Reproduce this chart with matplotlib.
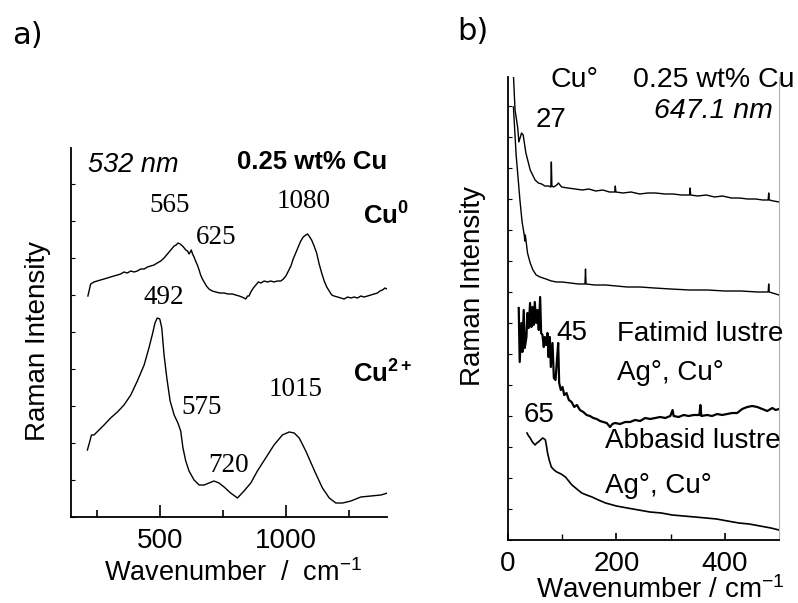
import matplotlib
matplotlib.use("Agg")
import matplotlib.pyplot as plt
from matplotlib.ticker import MultipleLocator, FixedLocator

plt.rcParams['font.family'] = ['Liberation Sans', 'DejaVu Sans']
plt.rcParams['mathtext.fontset'] = 'custom'
plt.rcParams['mathtext.rm'] = 'Liberation Sans'
plt.rcParams['mathtext.it'] = 'Liberation Sans:italic'
plt.rcParams['mathtext.bf'] = 'Liberation Sans:bold'

# ---------------- Panel a data (532 nm): (wavenumber, intensity) ----------------
cu0_pts = [(214, 221), (225, 233), (238, 235), (251, 236), (264, 237), (278, 238), (291, 239),
           (304, 240), (317, 241), (331, 242), (344, 243), (357, 245), (370, 244), (384, 246),
           (397, 245), (410, 246), (423, 248), (437, 248), (450, 250), (463, 251), (476, 252),
           (489, 254), (503, 256), (516, 259), (526, 262), (536, 265), (546, 268), (556, 271),
           (564, 272), (571, 274), (580, 273), (589, 271), (596, 269), (602, 267), (609, 266),
           (615, 263), (620, 265), (624, 267), (629, 263), (635, 260), (641, 256), (648, 252),
           (655, 247), (661, 242), (668, 238), (675, 235), (684, 231), (694, 228), (707, 226),
           (721, 225), (737, 224), (754, 224), (770, 223), (787, 223), (800, 222), (814, 221),
           (824, 220), (833, 219), (840, 218), (847, 221), (853, 221), (860, 225), (870, 229),
           (880, 232), (890, 235), (900, 234), (913, 236), (926, 235), (939, 236), (952, 235),
           (965, 236), (979, 236), (989, 238), (999, 241), (1009, 246), (1019, 251), (1028, 258),
           (1038, 264), (1048, 270), (1058, 276), (1068, 280), (1078, 282), (1085, 283),
           (1091, 281), (1101, 277), (1111, 271), (1121, 264), (1131, 253), (1141, 244),
           (1151, 236), (1161, 230), (1171, 226), (1181, 222), (1190, 221), (1204, 220),
           (1217, 219), (1230, 218), (1244, 220), (1257, 219), (1270, 220), (1283, 219),
           (1296, 221), (1309, 220), (1323, 221), (1336, 222), (1349, 223), (1362, 224),
           (1372, 226), (1382, 227), (1392, 229), (1400, 228)]

cu2_pts = [(212, 67), (222, 76), (228, 82), (238, 82), (258, 87), (278, 92), (304, 99), (331, 105),
           (357, 112), (384, 122), (410, 136), (437, 152), (456, 169), (470, 183), (480, 194),
           (489, 199), (499, 198), (507, 189), (516, 162), (527, 139), (540, 116), (556, 102),
           (571, 94), (582, 86), (591, 69), (602, 56), (615, 46), (635, 37), (655, 32), (675, 32),
           (694, 34), (714, 36), (734, 34), (754, 30), (780, 24), (807, 19), (833, 26), (860, 34),
           (886, 46), (919, 59), (952, 72), (985, 82), (1012, 85), (1032, 84), (1052, 79),
           (1078, 66), (1111, 47), (1144, 29), (1171, 19), (1197, 14), (1224, 14), (1257, 16),
           (1296, 20), (1336, 21), (1376, 22), (1402, 24)]

a_peaks = [("565", 540, 312), ("625", 722, 280), ("1080", 1071, 316),
           ("492", 514, 220), ("575", 663, 110), ("720", 770, 51), ("1015", 1036, 128)]

# ---------------- Panel b data (647.1 nm): (wavenumber, intensity) ----------------
b1_pts = [(10, 465), (13, 430), (18, 412), (20, 398), (25, 407), (28, 405), (33, 387), (41, 370),
          (50, 360), (56, 357), (62, 356), (68, 354), (75, 354), (79, 353), (80, 378), (81, 354),
          (84, 353), (90, 355), (93, 357), (99, 353), (110, 352), (124, 351), (137, 350),
          (149, 351), (162, 349), (175, 350), (187, 348), (197, 348), (198, 354), (199, 348),
          (212, 347), (227, 348), (243, 346), (258, 347), (272, 347), (290, 346), (305, 346),
          (320, 345), (335, 345), (336, 352), (337, 345), (350, 344), (366, 345), (381, 343),
          (396, 344), (412, 342), (427, 342), (442, 341), (457, 341), (470, 340), (480, 340),
          (481, 347), (482, 340), (490, 339), (500, 338)]

b2_pts = [(10, 433), (15, 385), (22, 340), (26, 318), (30, 305), (31, 299), (32, 305), (36, 287),
          (41, 277), (46, 270), (52, 265), (59, 263), (70, 261), (80, 259), (90, 258), (100, 258),
          (115, 257), (130, 256), (142, 256), (143, 271), (144, 256), (160, 255), (180, 255),
          (200, 254), (220, 253), (244, 253), (270, 252), (300, 251), (335, 250), (368, 250),
          (400, 249), (430, 249), (460, 248), (480, 248), (481, 256), (482, 248), (500, 245)]

b3_pts = [(19.8, 232), (21.6, 178), (24.7, 217), (26.5, 188), (29, 230), (30.9, 192), (34, 203),
          (35.8, 227), (38.3, 212), (40.7, 237), (43.2, 213), (45.1, 233), (47.5, 215),
          (49.4, 238), (51.9, 217), (54.3, 230), (56.8, 210), (59.3, 243), (61.1, 207),
          (63.6, 205), (66, 193), (67.9, 203), (70.4, 195), (72.8, 207), (74.7, 183), (77.2, 203),
          (79, 173), (82.1, 197), (84.6, 162), (87.7, 160), (90.7, 183), (92.6, 197), (94.4, 157),
          (97.5, 150), (100.6, 153), (103.7, 145), (108, 147), (112.3, 140), (117.3, 138),
          (122.2, 133), (127.2, 135), (132.7, 130), (138.9, 128), (145.1, 125), (151.2, 124),
          (157.4, 122), (163.6, 121), (169.8, 119), (175.9, 118), (182.1, 117), (188.3, 113),
          (192.6, 116), (197.5, 117), (206.8, 116), (216, 118), (225.3, 118), (234.6, 120),
          (243.8, 119), (253.1, 122), (262.3, 121), (271.6, 122), (280.9, 123), (290.1, 122),
          (299.4, 124), (303.7, 130), (305.6, 124), (314.8, 123), (324.1, 125), (333.3, 124),
          (342.6, 125), (353.1, 125), (354.9, 135), (356.8, 124), (367.3, 125), (376.5, 124),
          (385.8, 126), (395.1, 125), (404.3, 126), (413.6, 127), (422.8, 127), (432.1, 131),
          (441.4, 133), (450.6, 134), (459.9, 133), (469.1, 131), (478.4, 129), (487.7, 132),
          (493.8, 130), (500, 131)]

b4_pts = [(35, 107), (38, 104), (41, 102), (45, 98), (50, 95), (53, 97), (56, 98), (60, 100),
          (64, 102), (67, 101), (69, 100), (71, 94), (73, 87), (76, 80), (80, 73), (85, 70),
          (90, 68), (98, 66), (106, 63), (112, 59), (118, 55), (127, 51), (136, 47), (145, 45),
          (155, 43), (167, 40), (180, 37), (200, 34), (220, 32), (241, 30), (262, 28), (283, 27),
          (303, 25), (324, 24), (345, 23), (365, 22), (385, 21), (405, 19), (426, 17), (445, 16),
          (465, 14), (485, 12), (500, 10)]

W, H = 798, 603
fig = plt.figure(figsize=(W / 100, H / 100), dpi=100)


def fx(px):
    return px / W


def fy(py):
    return 1 - py / H


def ftext(px, py, s, **kw):
    kw.setdefault('va', 'center')
    fig.text(fx(px), fy(py), s, **kw)


def xy(pts):
    return [p[0] for p in pts], [p[1] for p in pts]


# axes a
axa = fig.add_axes([fx(71), fy(517), (387 - 71) / W, (517 - 148) / H])
axa.plot(*xy(cu0_pts), color='black', lw=1.0)
axa.plot(*xy(cu2_pts), color='black', lw=1.0)
axa.set_xlim(147, 1400)
axa.set_ylim(0, 369)
for s in ['top', 'right']:
    axa.spines[s].set_visible(False)
axa.spines['left'].set_linewidth(1.3)
axa.spines['bottom'].set_linewidth(1.3)
axa.xaxis.set_major_locator(FixedLocator([500, 1000]))
axa.xaxis.set_minor_locator(FixedLocator([250, 750, 1250]))
axa.yaxis.set_major_locator(MultipleLocator(37))
axa.tick_params(axis='x', which='major', direction='in', length=9, width=1.2, labelsize=20, pad=8)
axa.tick_params(axis='x', which='minor', direction='in', length=5, width=1.2)
axa.tick_params(axis='y', which='major', direction='in', length=3, width=0.8, labelleft=False)
for lab, x, y in a_peaks:
    axa.text(x, y, lab, family='Liberation Serif', fontsize=19.5, ha='center', va='center')

ftext(88, 165, '532 nm', fontsize=19.5, style='italic')
ftext(237, 162, '0.25 wt% Cu', fontsize=18.5, weight='bold')
ftext(363, 216, r'$\mathbf{Cu^0}$', fontsize=18.5)
ftext(353, 374, r'$\mathbf{Cu^{2+}}$', fontsize=18.5)
ftext(12, 36, 'a)', fontsize=22, family=['DejaVu Sans'])
ftext(38, 341, 'Raman Intensity', fontsize=20, rotation=90, ha='center')
ftext(233, 573, r'Wavenumber  /  cm$^{-1}$', fontsize=19.5, ha='center')

# axes b
axb = fig.add_axes([fx(508), fy(540), (779 - 508) / W, (540 - 77) / H])
axb.plot(*xy(b1_pts), color='black', lw=1.0)
axb.plot(*xy(b2_pts), color='black', lw=1.0)
axb.plot(*xy(b3_pts), color='black', lw=1.6)
axb.plot(*xy(b4_pts), color='black', lw=1.2)
axb.set_xlim(0, 500)
axb.set_ylim(0, 463)
axb.spines['top'].set_visible(False)
axb.spines['right'].set_color('#b0b0b0')
axb.spines['left'].set_linewidth(1.3)
axb.spines['bottom'].set_linewidth(1.3)
axb.xaxis.set_major_locator(FixedLocator([0, 200, 400]))
axb.xaxis.set_minor_locator(FixedLocator([100, 300]))
axb.yaxis.set_major_locator(MultipleLocator(31))
axb.tick_params(axis='x', which='major', direction='in', length=5, width=1.2, labelsize=20, pad=8)
axb.tick_params(axis='x', which='minor', direction='in', length=4, width=1.0)
axb.tick_params(axis='y', which='major', direction='in', length=3, width=0.8, labelleft=False)

ftext(550, 80, 'Cu°', fontsize=20.5)
ftext(633, 80, '0.25 wt% Cu', fontsize=20.5)
ftext(773, 111, '647.1 nm', fontsize=20.5, style='italic', ha='right')
ftext(551, 120, '27', fontsize=20, ha='center')
ftext(572, 333, '45', fontsize=20, ha='center')
ftext(617, 334, 'Fatimid lustre', fontsize=20)
ftext(617, 373, 'Ag°, Cu°', fontsize=20)
ftext(539, 415, '65', fontsize=20, ha='center')
ftext(605, 441, 'Abbasid lustre', fontsize=20)
ftext(605, 486, 'Ag°, Cu°', fontsize=20)
ftext(457, 32, 'b)', fontsize=22, family=['DejaVu Sans'])
ftext(473, 286, 'Raman Intensity', fontsize=20, rotation=90, ha='center')
ftext(660, 590, r'Wavenumber / cm$^{-1}$', fontsize=20, ha='center')

fig.savefig('out.png', dpi=100)
